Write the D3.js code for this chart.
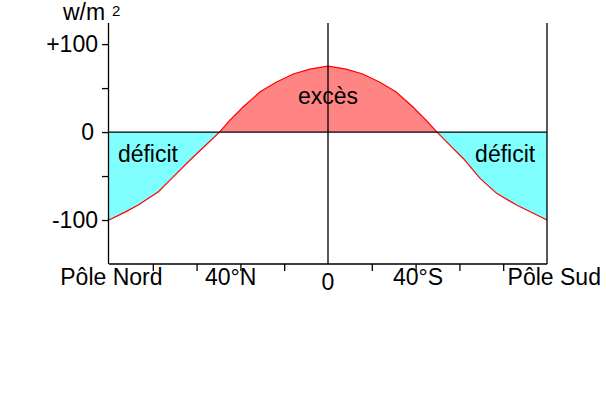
<!DOCTYPE html>
<html>
<head>
<meta charset="utf-8">
<script src="https://cdn.jsdelivr.net/npm/d3@7"></script>
<style>
  html, body { margin: 0; padding: 0; background: #fff; }
  svg { display: block; font-family: "Liberation Sans", Arial, sans-serif; }
</style>
</head>
<body>
<svg id="chart" width="606" height="418"></svg>
<script>
// Latitude (negative = North, positive = South) and net radiation balance (W/m²)
const latitudes = [-90, -83.4, -78, -69.7, -64.2, -57.4, -50.5, -44.6, -40.3, -34.8, -27.9, -21.1, -14.3, -7.4, 0,
                   7.4, 14.3, 21.1, 27.9, 34.8, 40.3, 44.8, 50.1, 55.6, 62.5, 69.3, 77.5, 90];
const balance   = [-100, -91, -83, -67.8, -52.6, -33.7, -15.5, 0, 13.6, 28.8, 45.8, 57, 66, 71.6, 75,
                   71.6, 66, 57, 45.8, 28.8, 13.6, 0, -14.8, -30, -52.6, -69.7, -83, -100];
const yTickValues = [100, 50, 0, -50, -100];
const yTickLabels = ["+100", "", "0", "", "-100"];
const xTickValues = [-72, -54, -36, -18, 18, 36, 54, 72];
const xLabelLats  = [-89, -40, 0, 37, 93];
const xLabelTexts = ["Pôle Nord", "40°N", "0", "40°S", "Pôle Sud"];
const zoneTexts   = ["déficit", "excès", "déficit"];
const zoneLats    = [-74, 0, 72.8];
const zoneValues  = [-34, 32, -34];

const data = latitudes.map((l, i) => ({ lat: l, v: balance[i] }));

const svg = d3.select("#chart");
const x = d3.scaleLinear().domain([-90, 90]).range([109, 547]);
const y = d3.scaleLinear().domain([-150, 124]).range([264, 23]);

const defs = svg.append("defs");
defs.append("clipPath").attr("id", "above")
  .append("rect").attr("x", x(-90)).attr("y", y(124)).attr("width", x(90) - x(-90)).attr("height", y(0) - y(124));
defs.append("clipPath").attr("id", "below")
  .append("rect").attr("x", x(-90)).attr("y", y(0)).attr("width", x(90) - x(-90)).attr("height", y(-150) - y(0));

const area = d3.area().x(d => x(d.lat)).y0(y(0)).y1(d => y(d.v));
svg.append("path").datum(data).attr("d", area).attr("fill", "#ff8585").attr("clip-path", "url(#above)");
svg.append("path").datum(data).attr("d", area).attr("fill", "#80ffff").attr("clip-path", "url(#below)");

const line = d3.line().x(d => x(d.lat)).y(d => y(d.v));
svg.append("path").datum(data).attr("d", line).attr("fill", "none").attr("stroke", "#ff0000").attr("stroke-width", 1.2);

// frame lines
const black = "#000";
svg.append("line").attr("x1", x(-90)).attr("x2", x(90)).attr("y1", y(0)).attr("y2", y(0)).attr("stroke", black).attr("stroke-width", 1.3);
svg.append("line").attr("x1", x(0)).attr("x2", x(0)).attr("y1", y(124)).attr("y2", y(-150)).attr("stroke", black).attr("stroke-width", 1.3);
svg.append("line").attr("x1", x(90)).attr("x2", x(90)).attr("y1", y(124)).attr("y2", y(-150)).attr("stroke", black).attr("stroke-width", 1.3);

// Y axis
const yAxis = d3.axisLeft(y).tickValues(yTickValues).tickSize(7).tickFormat("");
const gy = svg.append("g").attr("transform", `translate(${x(-90)},0)`).call(yAxis);
gy.select(".domain").attr("d", `M-0.5,${y(124)}V${y(-150)}`).attr("stroke-width", 1.3);
gy.selectAll(".tick line").attr("stroke-width", 1.3);
svg.selectAll(".ylab").data(yTickValues.map((v, i) => ({ v, t: yTickLabels[i] })).filter(d => d.t))
  .enter().append("text").attr("class", "ylab")
  .attr("x", d => d.v === 0 ? 94 : 98)
  .attr("y", d => y(d.v) + 8)
  .attr("text-anchor", "end").attr("font-size", 23).text(d => d.t);

// X axis
const xAxis = d3.axisBottom(x).tickValues(xTickValues).tickSize(7).tickFormat("");
const gx = svg.append("g").attr("transform", `translate(0,${y(-150)})`).call(xAxis);
gx.select(".domain").attr("d", `M${x(-90)},0H${x(90)}`).attr("stroke-width", 1.3);
gx.selectAll(".tick line").attr("stroke-width", 1.3);
svg.selectAll(".xlab").data(xLabelLats.map((l, i) => ({ l, t: xLabelTexts[i] })))
  .enter().append("text").attr("class", "xlab")
  .attr("x", d => x(d.l))
  .attr("y", d => d.t === "0" ? 290 : 285)
  .attr("text-anchor", "middle").attr("font-size", 23).text(d => d.t);

// zone labels
svg.selectAll(".zlab").data(zoneTexts.map((t, i) => ({ t, lat: zoneLats[i], v: zoneValues[i] })))
  .enter().append("text").attr("class", "zlab")
  .attr("x", d => x(d.lat)).attr("y", d => y(d.v))
  .attr("text-anchor", "middle").attr("font-size", 23).text(d => d.t);

// unit
svg.append("text").attr("x", 63).attr("y", 20).attr("font-size", 23).text("w/m");
svg.append("text").attr("x", 112).attr("y", 16).attr("font-size", 15).text("2");
</script>
</body>
</html>
